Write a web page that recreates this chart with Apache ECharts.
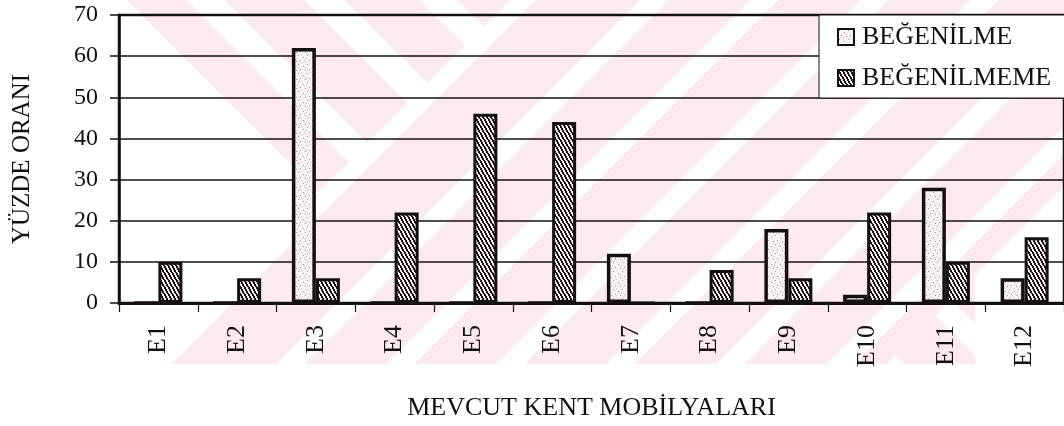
<!DOCTYPE html>
<html>
<head>
<meta charset="utf-8">
<script src="https://cdn.jsdelivr.net/npm/echarts@6/dist/echarts.min.js"></script>
<style>
html,body{margin:0;padding:0;background:#fff;}
#main{width:1064px;height:426px;}
</style>
</head>
<body>
<div id="main"></div>
<script>
// ---- data ----
const categories = ['E1','E2','E3','E4','E5','E6','E7','E8','E9','E10','E11','E12'];
const begenilme   = [0, 0, 62, 0, 0, 0, 12, 0, 18, 2, 28, 6];
const begenilmeme = [10, 6, 6, 22, 46, 44, 0, 8, 6, 22, 10, 16];
const yTicks = [0, 10, 20, 30, 40, 50, 60, 70];
const seriesNames = ['BEĞENİLME', 'BEĞENİLMEME'];
const xTitle = 'MEVCUT KENT MOBİLYALARI';
const yTitle = 'YÜZDE ORANI';

const FONT = '"Liberation Serif", "Times New Roman", serif';
const INK = '#141010';

// ---- fill patterns ----
function hatchPattern() {
  const w = 4, h = 7;
  const c = document.createElement('canvas');
  c.width = w; c.height = h;
  const g = c.getContext('2d');
  g.fillStyle = '#f6eeee'; g.fillRect(0, 0, w, h);
  g.fillStyle = '#1a1212';
  for (let r = 0; r < h; r++) {
    const x0 = Math.floor(r * w / h);
    g.fillRect(x0 % w, r, 1, 1);
    g.fillRect((x0 + 1) % w, r, 1, 1);
  }
  return c;
}
function stipplePattern() {
  const c = document.createElement('canvas');
  c.width = 9; c.height = 9;
  const g = c.getContext('2d');
  g.fillStyle = '#fbf3f4'; g.fillRect(0, 0, 9, 9);
  g.fillStyle = '#9a9090';
  [[1,1],[6,3],[3,6],[8,7]].forEach(p => g.fillRect(p[0], p[1], 1, 1));
  g.fillStyle = '#d6cccc';
  [[4,0],[0,4],[7,5],[2,8]].forEach(p => g.fillRect(p[0], p[1], 1, 1));
  return c;
}

// ---- background watermark (decorative) ----
function watermark() {
  const W = 1064, H = 426;
  const c = document.createElement('canvas');
  c.width = W; c.height = H;
  const g = c.getContext('2d');
  const img = g.createImageData(W, H);
  const bandsV1 = [[127,187],[225,305],[345,420],[458,540]];
  const bandsU = [[535,640],[668,750],[778,860],[888,970],[998,1080],[1108,1190],[1218,1300]];
  const bandsV2 = [[540,620],[652,732],[764,844]];
  const inB = (t, b) => b.some(r => t >= r[0] && t < r[1]);
  for (let y = 0; y < 364; y++) {
    for (let x = 0; x < W; x++) {
      const u = x + y, v = x - y;
      let p;
      if (u < 510) p = inB(v, bandsV1);
      else if (u < 1250) p = inB(u, bandsU);
      else p = x < 975 && inB(v, bandsV2);
      if (p) {
        const k = (y * W + x) * 4;
        img.data[k] = 252; img.data[k+1] = 234; img.data[k+2] = 238; img.data[k+3] = 255;
      }
    }
  }
  g.putImageData(img, 0, 0);
  return c;
}

const chart = echarts.init(document.getElementById('main'), null, {renderer: 'canvas'});
const lightFill = {image: stipplePattern(), repeat: 'repeat'};
const darkFill = {image: hatchPattern(), repeat: 'repeat'};

chart.setOption({
  animation: false,
  backgroundColor: '#ffffff',
  graphic: {
    elements: [{
      type: 'image', left: 0, top: 0, z: -10, silent: true,
      style: {image: watermark(), width: 1064, height: 426}
    }]
  },
  grid: {
    left: 119, right: -3, top: 15, bottom: 122.5,
    show: true, borderColor: INK, borderWidth: 2.5, backgroundColor: 'transparent'
  },
  legend: {
    orient: 'vertical', left: 819, top: 15,
    backgroundColor: '#ffffff', borderColor: INK, borderWidth: 1,
    padding: [9, 40, 7, 18], itemGap: 15,
    itemWidth: 16, itemHeight: 16, icon: 'rect',
    textStyle: {fontFamily: FONT, fontSize: 26, color: INK, padding: [0, 0, 0, 3]},
    data: seriesNames
  },
  xAxis: {
    type: 'category', data: categories,
    name: xTitle, nameLocation: 'middle', nameGap: 92,
    nameTextStyle: {fontFamily: FONT, fontSize: 26, color: INK},
    axisLine: {lineStyle: {color: INK, width: 3}},
    axisTick: {show: true, alignWithLabel: false, length: 9, lineStyle: {color: INK, width: 1.2}},
    axisLabel: {rotate: 90, margin: 22, fontFamily: FONT, fontSize: 26, color: INK},
    splitLine: {show: false}
  },
  yAxis: {
    type: 'value', min: yTicks[0], max: yTicks[yTicks.length - 1], interval: 10,
    name: yTitle, nameLocation: 'middle', nameGap: 84,
    nameTextStyle: {fontFamily: FONT, fontSize: 25, color: INK},
    axisLine: {show: true, lineStyle: {color: INK, width: 2.5}},
    axisTick: {show: true, length: 9, lineStyle: {color: INK, width: 1.5}},
    axisLabel: {margin: 21, fontFamily: FONT, fontSize: 24, color: INK},
    splitLine: {show: true, lineStyle: {color: INK, width: 1.5}}
  },
  series: [
    {
      name: seriesNames[0], type: 'bar', data: begenilme,
      barWidth: 24, barGap: '0%',
      itemStyle: {color: lightFill, borderColor: INK, borderWidth: 3.5}
    },
    {
      name: seriesNames[1], type: 'bar', data: begenilmeme,
      barWidth: 24, barGap: '0%',
      itemStyle: {color: darkFill, borderColor: INK, borderWidth: 3}
    }
  ]
});
</script>
</body>
</html>
